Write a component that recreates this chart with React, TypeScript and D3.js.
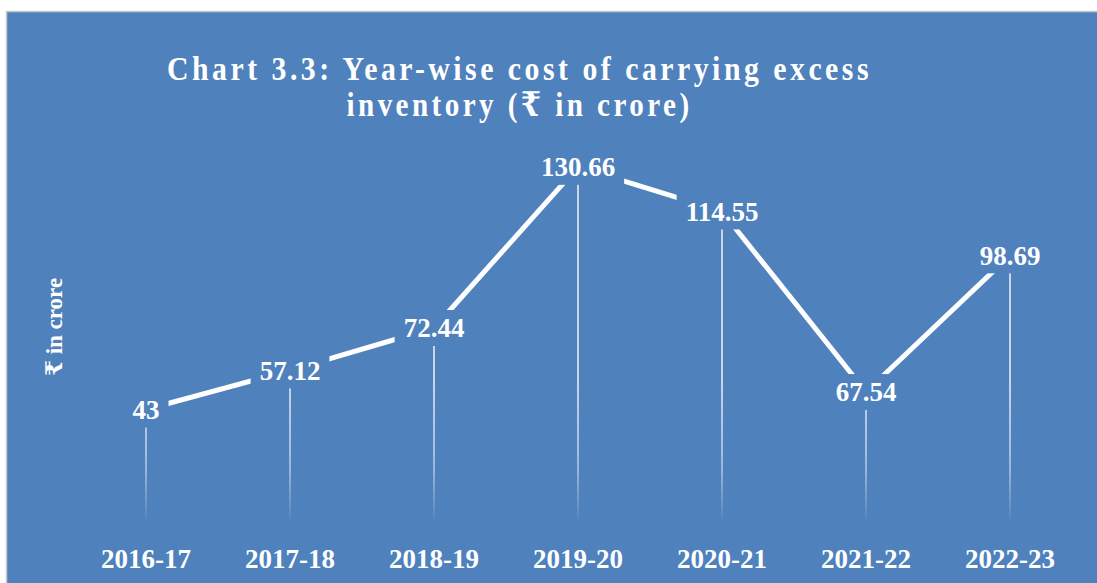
import React, { useEffect, useRef } from 'react';
import * as d3 from 'd3';

const width: number = 1097;
const height: number = 583;

// categories and values
const years: string[] = ['2016-17', '2017-18', '2018-19', '2019-20', '2020-21', '2021-22', '2022-23'];
const labels: string[] = ['43', '57.12', '72.44', '130.66', '114.55', '67.54', '98.69'];
// where each point sits in the picture (2021-22 is drawn lower than its label says)
const plotted: number[] = [43, 57.12, 72.44, 130.66, 114.55, 49.3, 98.69];

const titleLines: string[] = ['Chart 3.3: Year-wise cost of carrying excess', 'inventory (₹ in crore)'];
const yTitle: string = '₹ in crore';

const bg: string = '#4F81BD';
const font: string = '"Liberation Serif", "Times New Roman", "DejaVu Serif", serif';

export default function App() {
  const ref = useRef<SVGSVGElement>(null);

  useEffect(() => {
    const svg: any = d3.select(ref.current);
    svg.selectAll('*').remove();

    var xScale: any = d3.scalePoint()
                        .domain(years)
                        .range([74, 1082])
                        .padding(0.5);

    var yScale: any = d3.scaleLinear()
                        .domain([0, 140])
                        .range([528.5, 141]);

    // gradient for drop lines
    const grad: any = svg.append('defs')
      .append('linearGradient')
      .attr('id', 'dropGrad')
      .attr('gradientUnits', 'userSpaceOnUse')
      .attr('x1', 0).attr('x2', 0)
      .attr('y1', 380).attr('y2', 526);
    grad.append('stop').attr('offset', 0).attr('stop-color', '#ffffff').attr('stop-opacity', 0.85);
    grad.append('stop').attr('offset', 0.6).attr('stop-color', '#ffffff').attr('stop-opacity', 0.55);
    grad.append('stop').attr('offset', 1).attr('stop-color', '#ffffff').attr('stop-opacity', 0);

    // background panel
    svg.append('rect')
      .attr('x', 6.5).attr('y', 11.5)
      .attr('width', width).attr('height', height)
      .attr('fill', bg)
      .attr('stroke', '#c9c9c9')
      .attr('stroke-width', 1.5);

    // title, two lines squeezed to the reference widths
    const tw: number[] = [705, 346];
    const tb: number[] = [80, 116];
    titleLines.forEach((t: string, i: number) => {
      svg.append('text')
        .attr('x', 519.5 - tw[i] / 2)
        .attr('y', tb[i])
        .attr('textLength', tw[i])
        .attr('lengthAdjust', 'spacingAndGlyphs')
        .style('font-family', font)
        .style('font-weight', 'bold')
        .style('font-size', '34px')
        .style('letter-spacing', '4px')
        .attr('fill', '#ffffff')
        .text(t);
    });

    // y axis title
    svg.append('text')
      .attr('transform', 'translate(62,327) rotate(-90)')
      .attr('text-anchor', 'middle')
      .style('font-family', font)
      .style('font-weight', 'bold')
      .style('font-size', '23px')
      .attr('fill', '#ffffff')
      .text(yTitle);

    // drop lines
    svg.selectAll('.drop')
      .data(plotted)
      .enter()
      .append('line')
      .attr('x1', (d: number, i: number) => xScale(years[i]))
      .attr('x2', (d: number, i: number) => xScale(years[i]))
      .attr('y1', (d: number) => yScale(d))
      .attr('y2', yScale(0))
      .attr('stroke', 'url(#dropGrad)')
      .attr('stroke-width', 1.6);

    // the line
    const line: any = d3.line<number>()
      .x((d: number, i: number) => xScale(years[i]))
      .y((d: number) => yScale(d));

    svg.append('path')
      .datum(plotted)
      .attr('d', line)
      .attr('fill', 'none')
      .attr('stroke', '#ffffff')
      .attr('stroke-width', 5)
      .attr('stroke-linejoin', 'round');

    // data labels with panel-coloured boxes
    const lab: any = svg.selectAll('.lab')
      .data(plotted)
      .enter()
      .append('g')
      .attr('transform', (d: number, i: number) => `translate(${xScale(years[i])},${yScale(d)})`);

    lab.each(function (this: any, d: number, i: number) {
      const g: any = d3.select(this);
      const box: any = g.append('rect').attr('fill', bg);
      const t: any = g.append('text')
        .attr('text-anchor', 'middle')
        .attr('dy', '0.35em')
        .style('font-family', font)
        .style('font-weight', 'bold')
        .style('font-size', '27px')
        .attr('fill', '#ffffff')
        .text(labels[i]);
      const w: number = t.node().getComputedTextLength();
      box.attr('x', -w / 2 - 9).attr('y', -18).attr('width', w + 18).attr('height', 36);
    });

    // category labels
    svg.selectAll('.cat')
      .data(years)
      .enter()
      .append('text')
      .attr('x', (d: string) => xScale(d))
      .attr('y', 568)
      .attr('text-anchor', 'middle')
      .style('font-family', font)
      .style('font-weight', 'bold')
      .style('font-size', '27px')
      .attr('fill', '#ffffff')
      .text((d: string) => d);
  }, []);

  return (
    <svg
      ref={ref}
      width={width}
      height={height}
      viewBox={`0 0 ${width} ${height}`}
      style={{ position: 'absolute', left: 0, top: 0, background: '#ffffff' }}
    />
  );
}
